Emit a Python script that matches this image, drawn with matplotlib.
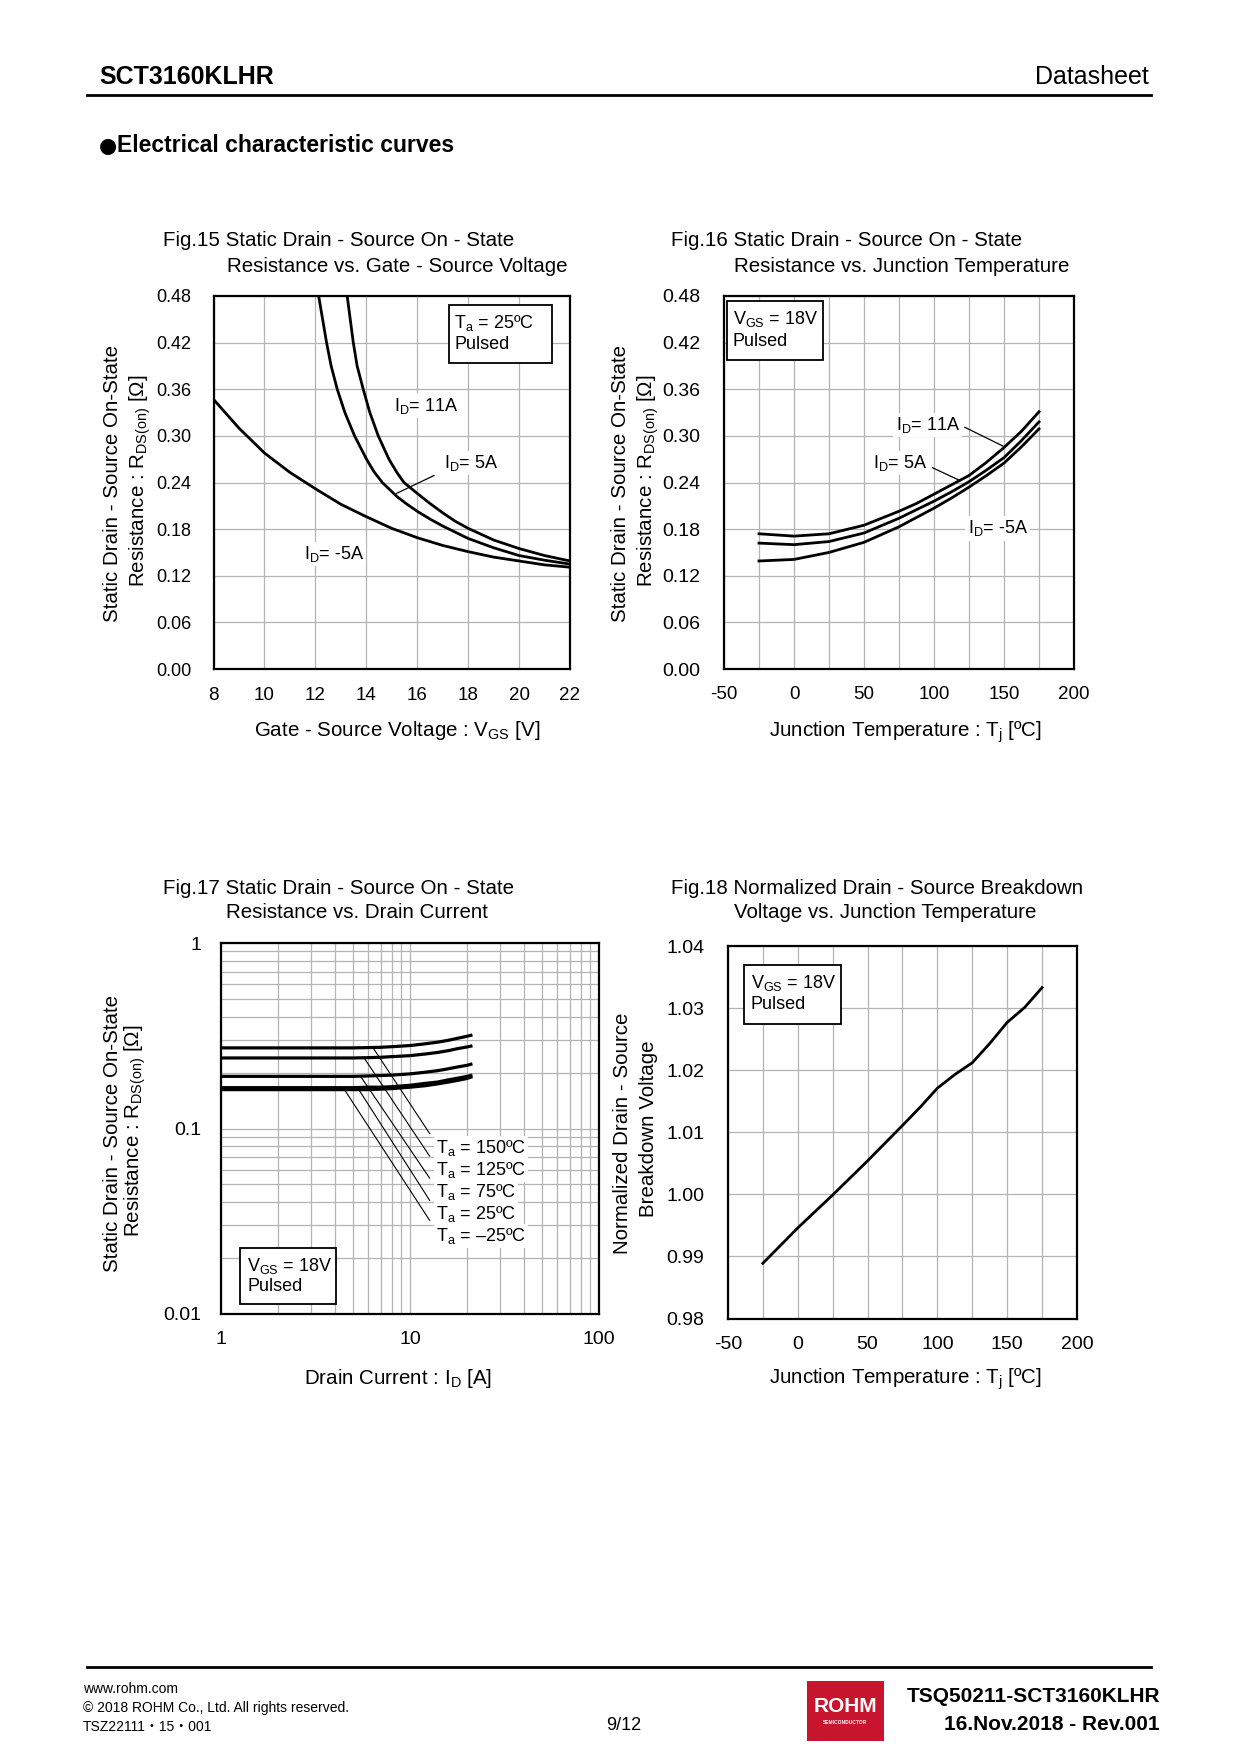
import numpy as np
import matplotlib
matplotlib.use('Agg')
import matplotlib.pyplot as plt
from matplotlib.patches import Rectangle
from matplotlib.lines import Line2D

plt.rcParams['font.family'] = ['Liberation Sans', 'DejaVu Sans']
plt.rcParams['mathtext.fontset'] = 'custom'
plt.rcParams['mathtext.rm'] = 'Liberation Sans'
plt.rcParams['mathtext.it'] = 'Liberation Sans:italic'
plt.rcParams['mathtext.bf'] = 'Liberation Sans:bold'

W, H = 1240, 1754

# Fig.15  RDS(on) vs VGS
vgs_11a = [13.25, 13.49, 13.64, 13.88, 14.14, 14.47, 14.89, 15.2, 15.48, 16.0, 16.5, 17.0, 17.5, 18.0, 19.0, 20.0, 21.0, 22.0]
r_11a = [0.48, 0.42, 0.39, 0.36, 0.33, 0.30, 0.27, 0.253, 0.240, 0.226, 0.213, 0.201, 0.190, 0.181, 0.166, 0.155, 0.146, 0.139]
vgs_5a = [12.13, 12.44, 12.62, 12.86, 13.16, 13.54, 14.01, 14.3, 14.63, 15.2, 15.6, 16.0, 16.5, 17.0, 18.0, 19.0, 20.0, 21.0, 22.0]
r_5a = [0.48, 0.42, 0.39, 0.36, 0.33, 0.30, 0.27, 0.254, 0.240, 0.222, 0.212, 0.203, 0.193, 0.184, 0.168, 0.156, 0.146, 0.140, 0.135]
vgs_m5a = [8, 9, 10, 11, 12, 13, 14, 15, 16, 17, 18, 19, 20, 21, 22]
r_m5a = [0.347, 0.31, 0.278, 0.253, 0.232, 0.212, 0.196, 0.181, 0.169, 0.159, 0.151, 0.144, 0.139, 0.134, 0.131]

# Fig.16  RDS(on) vs Tj
tj16 = [-25, 0, 25, 50, 75, 87.5, 100, 112.5, 125, 137.5, 150, 162.5, 175]
r16_11a = [0.174, 0.171, 0.174, 0.185, 0.203, 0.213, 0.225, 0.237, 0.249, 0.266, 0.285, 0.306, 0.331]
r16_5a = [0.162, 0.160, 0.164, 0.175, 0.194, 0.205, 0.216, 0.228, 0.241, 0.256, 0.272, 0.294, 0.318]
r16_m5a = [0.139, 0.141, 0.150, 0.163, 0.183, 0.195, 0.207, 0.220, 0.234, 0.249, 0.265, 0.286, 0.309]

# Fig.17  RDS(on) vs ID
id17 = [1, 2, 3, 4, 5, 6, 7, 8, 10, 12, 14, 16, 18, 20, 21]
r17_150 = [0.272, 0.272, 0.272, 0.272, 0.272, 0.273, 0.274, 0.276, 0.280, 0.286, 0.292, 0.299, 0.307, 0.314, 0.318]
r17_125 = [0.240, 0.240, 0.240, 0.240, 0.240, 0.241, 0.242, 0.244, 0.247, 0.252, 0.257, 0.263, 0.270, 0.275, 0.278]
r17_75 = [0.191, 0.191, 0.191, 0.191, 0.191, 0.192, 0.193, 0.194, 0.197, 0.201, 0.205, 0.210, 0.215, 0.219, 0.222]
r17_25 = [0.166, 0.166, 0.166, 0.166, 0.166, 0.167, 0.167, 0.168, 0.171, 0.175, 0.178, 0.183, 0.187, 0.191, 0.193]
r17_m25 = [0.162, 0.162, 0.162, 0.162, 0.162, 0.162, 0.163, 0.164, 0.167, 0.170, 0.174, 0.178, 0.182, 0.186, 0.189]
labels17 = ['150', '125', '75', '25', '\u201325']

# Fig.18  normalized BVDSS vs Tj
tj18 = [-25, 0, 25, 50, 75, 87.5, 100, 112.5, 125, 137.5, 150, 162.5, 175]
bv18 = [0.9889, 0.9946, 0.9999, 1.0054, 1.0111, 1.0140, 1.0171, 1.0193, 1.0212, 1.0243, 1.0277, 1.0301, 1.0333]


def frac(l, t, r, b):
    return [l / W, 1 - b / H, (r - l) / W, (b - t) / H]


def ftext(x, y, s, **kw):
    fig.text(x / W, 1 - y / H, s, **kw)


def style(ax, xs=13.5, ys=14):
    for sp in ax.spines.values():
        sp.set_linewidth(1.6)
        sp.set_color('black')
    ax.tick_params(which='both', length=0)
    ax.tick_params(axis='x', labelsize=xs)
    ax.tick_params(axis='y', labelsize=ys)
    ax.grid(True, which='both', color='#b4b4b4', lw=0.9)
    ax.set_axisbelow(True)


def box(ax, x0, y0, x1, y1, lines, tx, tys):
    ax.add_patch(Rectangle((x0, y0), x1 - x0, y1 - y0, fc='white', ec='black', lw=1.3, zorder=5))
    for s, ty in zip(lines, tys):
        ax.text(tx, ty, s, fontsize=13, va='center', ha='left', zorder=6)


fig = plt.figure(figsize=(W / 100, H / 100), dpi=100)

# header
ftext(99, 77, 'SCT3160KLHR', fontsize=18, fontweight='bold', va='center')
ftext(1149, 77, 'Datasheet', fontsize=18, ha='right', va='center')
fig.add_artist(Line2D([87 / W, 1151 / W], [1 - 95 / H] * 2, color='black', lw=2))
ftext(99, 146, '\u25cf', fontsize=15, va='center', family='DejaVu Sans')
ftext(117, 146, 'Electrical characteristic curves', fontsize=16.5, fontweight='bold', va='center')

TS = 14.8
lab = dict(fontsize=TS, va='center')
rot = dict(fontsize=TS, va='center', ha='center', rotation=90)
ylab_r = r'Resistance : R$_\mathrm{DS(on)}$ [$\Omega$]'
wb = dict(fc='white', ec='none', pad=1.5)
lw_c = 2.0
AS = 13

# ---- Fig.15
ax = fig.add_axes(frac(213.5, 296, 570, 669))
style(ax, 13.5, 13)
ax.plot(vgs_11a, r_11a, color='black', lw=lw_c, zorder=3)
ax.plot(vgs_5a, r_5a, color='black', lw=lw_c, zorder=3)
ax.plot(vgs_m5a, r_m5a, color='black', lw=lw_c, zorder=3)
ax.set_xlim(8, 22)
ax.set_ylim(0, 0.48)
ax.set_xticks(np.arange(8, 23, 2))
ax.set_yticks(np.arange(0, 0.49, 0.06))
ax.set_yticklabels(['%.2f' % v for v in np.arange(0, 0.49, 0.06)])
ax.tick_params(axis='x', pad=13)
ax.tick_params(axis='y', pad=16)
ax.text(15.09, 0.339, r'I$_\mathrm{D}$= 11A', fontsize=AS, va='center', bbox=wb, zorder=4)
ax.text(17.05, 0.265, r'I$_\mathrm{D}$= 5A', fontsize=AS, va='center', bbox=wb, zorder=4)
ax.text(11.54, 0.148, r'I$_\mathrm{D}$= -5A', fontsize=AS, va='center', bbox=wb, zorder=4)
ax.plot([15.19, 16.66], [0.226, 0.249], color='black', lw=0.9, zorder=4)
box(ax, 17.23, 0.394, 21.28, 0.469, [r'T$_\mathrm{a}$ = 25ºC', 'Pulsed'], 17.45, [0.4447, 0.418])
ftext(163, 241, 'Fig.15 Static Drain - Source On - State', **lab)
ftext(227, 266, 'Resistance vs. Gate - Source Voltage', **lab)
ftext(113, 483, 'Static Drain - Source On-State', **rot)
ftext(140, 481, ylab_r, **rot)
ftext(397, 731, r'Gate - Source Voltage : V$_\mathrm{GS}$ [V]', fontsize=TS, ha='center', va='center')

# ---- Fig.16
ax = fig.add_axes(frac(724, 296, 1074, 669))
style(ax, 13.5, 14)
ax.plot(tj16, r16_11a, color='black', lw=lw_c, zorder=3)
ax.plot(tj16, r16_5a, color='black', lw=lw_c, zorder=3)
ax.plot(tj16, r16_m5a, color='black', lw=lw_c, zorder=3)
ax.set_xlim(-50, 200)
ax.set_ylim(0, 0.48)
ax.set_xticks(np.arange(-50, 201, 25))
ax.set_xticklabels([str(v) if v % 50 == 0 else '' for v in range(-50, 201, 25)])
ax.set_yticks(np.arange(0, 0.49, 0.06))
ax.set_yticklabels(['%.2f' % v for v in np.arange(0, 0.49, 0.06)])
ax.tick_params(axis='x', pad=12.5)
ax.tick_params(axis='y', pad=17)
ax.text(72.6, 0.314, r'I$_\mathrm{D}$= 11A', fontsize=AS, va='center', bbox=wb, zorder=4)
ax.text(56.6, 0.265, r'I$_\mathrm{D}$= 5A', fontsize=AS, va='center', bbox=wb, zorder=4)
ax.text(124, 0.181, r'I$_\mathrm{D}$= -5A', fontsize=AS, va='center', bbox=wb, zorder=4)
ax.plot([122.1, 149.1], [0.311, 0.287], color='black', lw=0.9, zorder=4)
ax.plot([98.9, 118.0], [0.259, 0.243], color='black', lw=0.9, zorder=4)
box(ax, -48.1, 0.398, 20.7, 0.473, [r'V$_\mathrm{GS}$ = 18V', 'Pulsed'], -43.8, [0.451, 0.422])
ftext(671, 241, 'Fig.16 Static Drain - Source On - State', **lab)
ftext(734, 266, 'Resistance vs. Junction Temperature', **lab)
ftext(620, 483, 'Static Drain - Source On-State', **rot)
ftext(648, 481, ylab_r, **rot)
ftext(905, 732, r'Junction Temperature : T$_\mathrm{j}$ [ºC]', fontsize=TS, ha='center', va='center')

# ---- Fig.17
ax = fig.add_axes(frac(221, 943, 599, 1314))
style(ax, 14, 14)
ax.set_xscale('log')
ax.set_yscale('log')
for r in [r17_150, r17_125, r17_75, r17_25, r17_m25]:
    ax.plot(id17, r, color='black', lw=2.3, zorder=3)
ax.set_xlim(1, 100)
ax.set_ylim(0.01, 1)
ax.set_xticks([1, 10, 100])
ax.set_xticklabels(['1', '10', '100'])
ax.set_yticks([0.01, 0.1, 1])
ax.set_yticklabels(['0.01', '0.1', '1'])
ax.xaxis.set_minor_formatter(plt.NullFormatter())
ax.yaxis.set_minor_formatter(plt.NullFormatter())
ax.tick_params(axis='x', pad=12)
ax.tick_params(axis='y', pad=14)
lead_x0 = [6.38, 5.72, 5.48, 5.28, 4.50]
lead_y0 = [0.272, 0.240, 0.191, 0.166, 0.162]
lead_y1 = [0.094, 0.071, 0.054, 0.041, 0.032]
lab_y = [0.0785, 0.0597, 0.0455, 0.0346, 0.0263]
for x0, y0, y1, ly, t in zip(lead_x0, lead_y0, lead_y1, lab_y, labels17):
    ax.plot([x0, 12.7], [y0, y1], color='black', lw=0.8, zorder=4)
    ax.text(13.75, ly, r'T$_\mathrm{a}$ = ' + t + 'ºC', fontsize=AS, va='center', bbox=wb, zorder=4)
box(ax, 1.265, 0.01135, 4.08, 0.0226, [r'V$_\mathrm{GS}$ = 18V', 'Pulsed'], 1.376, [0.0182, 0.0141])
ftext(163, 889, 'Fig.17 Static Drain - Source On - State', **lab)
ftext(226, 913, 'Resistance vs. Drain Current', **lab)
ftext(113, 1133, 'Static Drain - Source On-State', **rot)
ftext(135, 1131, ylab_r, **rot)
ftext(398, 1379, r'Drain Current : I$_\mathrm{D}$ [A]', fontsize=TS, ha='center', va='center')

# ---- Fig.18
ax = fig.add_axes(frac(728, 946, 1077, 1318.5))
style(ax, 14, 14)
ax.plot(tj18, bv18, color='black', lw=lw_c, zorder=3)
ax.set_xlim(-50, 200)
ax.set_ylim(0.98, 1.04)
ax.set_xticks(np.arange(-50, 201, 25))
ax.set_xticklabels([str(v) if v % 50 == 0 else '' for v in range(-50, 201, 25)])
ax.set_yticks(np.linspace(0.98, 1.04, 7))
ax.set_yticklabels(['%.2f' % v for v in np.linspace(0.98, 1.04, 7)])
ax.tick_params(axis='x', pad=12.5)
ax.tick_params(axis='y', pad=17)
box(ax, -38.2, 1.0275, 30.9, 1.03688, [r'V$_\mathrm{GS}$ = 18V', 'Pulsed'], -33.7, [1.03411, 1.0305])
ftext(671, 889, 'Fig.18 Normalized Drain - Source Breakdown', **lab)
ftext(734, 913, 'Voltage vs. Junction Temperature', **lab)
ftext(622, 1133, 'Normalized Drain - Source', **rot)
ftext(648, 1129, 'Breakdown Voltage', **rot)
ftext(905, 1379, r'Junction Temperature : T$_\mathrm{j}$ [ºC]', fontsize=TS, ha='center', va='center')

# footer
fig.add_artist(Line2D([87 / W, 1151 / W], [1 - 1667 / H] * 2, color='black', lw=2))
ftext(83, 1689, 'www.rohm.com', fontsize=10, va='center')
ftext(83, 1708, '© 2018 ROHM Co., Ltd. All rights reserved.', fontsize=10, va='center')
ftext(83, 1727, 'TSZ22111\u30fb15\u30fb001', fontsize=10, va='center',
      family=['Liberation Sans', 'Noto Sans CJK JP', 'DejaVu Sans'])
ftext(624, 1725, '9/12', fontsize=13, ha='center', va='center')
fig.add_artist(Rectangle((807 / W, 1 - 1741 / H), 77 / W, 60 / H, transform=fig.transFigure,
                         fc='#c8152e', ec='none'))
ftext(845, 1707, 'ROHM', fontsize=15, fontweight='bold', color='white', ha='center', va='center')
ftext(845, 1723, 'SEMICONDUCTOR', fontsize=3.5, fontweight='bold', color='white', ha='center', va='center')
ftext(1160, 1697, 'TSQ50211-SCT3160KLHR', fontsize=15, fontweight='bold', ha='right', va='center')
ftext(1160, 1725, '16.Nov.2018 - Rev.001', fontsize=15, fontweight='bold', ha='right', va='center')

fig.savefig('out.png', dpi=100)
